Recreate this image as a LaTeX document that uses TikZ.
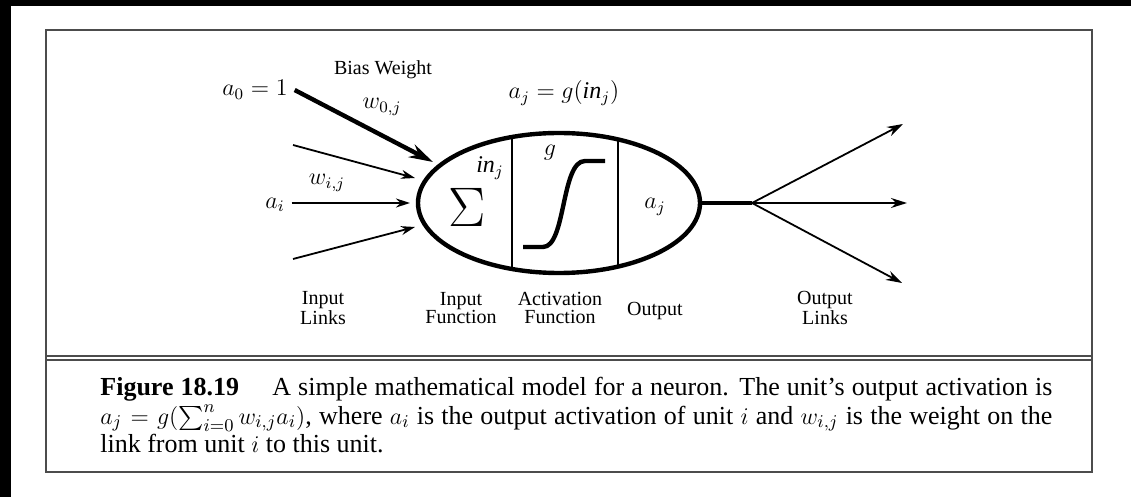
\documentclass[tikz,border=0pt]{standalone}
\usepackage{amsmath}
\usepackage{fontspec}
\setmainfont{Liberation Serif}
\usetikzlibrary{shapes.geometric,arrows.meta,positioning}

\begin{document}
\begin{tikzpicture}[
    x=0.5pt, y=-0.5pt,
    frame/.style={draw=black!70, line width=0.6pt},
    lbl/.style={align=center, font=\fontsize{10}{9}\selectfont},
    mlbl/.style={font=\large},
    inarrow/.style={-{Stealth[length=7pt,width=4.5pt]}, line width=0.9pt},
    biasarrow/.style={-{Stealth[length=12pt,width=7pt]}, line width=2.2pt},
    outarrow/.style={-{Stealth[length=8pt,width=5pt]}, line width=0.9pt},
    divider/.style={line width=0.8pt},
]

% Background and frame
\useasboundingbox (0,0) rectangle (1131,497);
\fill[black] (0,0) rectangle (1131,497);
\fill[white] (11,6) rectangle (1131,497);
\draw[frame] (46,30) rectangle (1092,472);
\draw[frame] (46,356) -- (1092,356);
\draw[frame] (46,360) -- (1092,360);

% Neuron
\node[ellipse, draw, line width=2.2pt, minimum width=141pt, minimum height=70pt,
      inner sep=0pt,
      path picture={
        \draw[divider] ([xshift=47pt]path picture bounding box.north west)
            -- ([xshift=47pt]path picture bounding box.south west);
        \draw[divider] ([xshift=100pt]path picture bounding box.north west)
            -- ([xshift=100pt]path picture bounding box.south west);
      }] (neuron) at (559,203) {};

\node[font=\fontsize{24}{24}\selectfont] (sum) at (467,207) {\scalebox{1.12}{$\Sigma$}};
\node[mlbl] (inj) at (490,168) {\textit{in}$_j$};
\node[mlbl] (gfun) at (550,153) {$g$};
\node[mlbl] (aj) at (655,207) {$a_j$};
\node[mlbl] (actfn) at (564,93) {$a_j = g($\textit{in}$_j)$};

% Sigmoid
\draw[line width=2.2pt] (523,247) -- (543,247)
    .. controls (566,247) and (561,161) .. (585,161) -- (605,161);

% Inputs
\node[mlbl] (a0) at (255,90) {$a_0 = 1$};
\node (bias) at (383,70) {Bias Weight};
\node[mlbl] (w0) at (382,107) {$w_{0,j}$};
\node[mlbl] (ai) at (275,205) {$a_i$};
\node[mlbl] (wij) at (327,183) {$w_{i,j}$};

\coordinate (b0) at (433,162);
\coordinate (x1) at (293,145);
\coordinate (t1) at (415,178);
\coordinate (t2) at (410,203);
\coordinate (x3) at (293,259);
\coordinate (t3) at (415,227);

\draw[biasarrow] (a0.east) -- (b0);
\draw[inarrow] (x1) -- (t1);
\draw[inarrow] (ai.east |- t2) -- (t2);
\draw[inarrow] (x3) -- (t3);

% Outputs
\coordinate (split) at (752,203);
\coordinate (o1) at (903,124);
\coordinate (o2) at (907,203);
\coordinate (o3) at (902,283);
\draw[line width=2.2pt] (neuron.east) -- (split);
\foreach \t in {o1,o2,o3}
    \draw[outarrow] (split) -- (\t);

% Labels
\node[lbl] (inlinks) at (323,308) {Input\\Links};
\node[lbl] (infn) at (461,308) {Input\\Function};
\node[lbl] (actlbl) at (560,308) {Activation\\Function};
\node[lbl] (outlbl) at (655,311) {Output};
\node[lbl] (outlinks) at (825,308) {Output\\Links};

% Caption
\node[anchor=north west, inner sep=0pt, text width=476pt, align=justify,
      font=\fontsize{13}{14.25}\selectfont] (cap) at (100,377)
    {\textbf{Figure 18.19}\hspace{1em} A simple mathematical model for a neuron.
     The unit's output activation is\linebreak
     $a_j = g(\sum_{i=0}^n w_{i,j} a_i)$, where $a_i$ is the output activation
     of unit $i$ and $w_{i,j}$ is the weight on the\linebreak
     link from unit $i$ to this unit.};

\end{tikzpicture}
\end{document}
